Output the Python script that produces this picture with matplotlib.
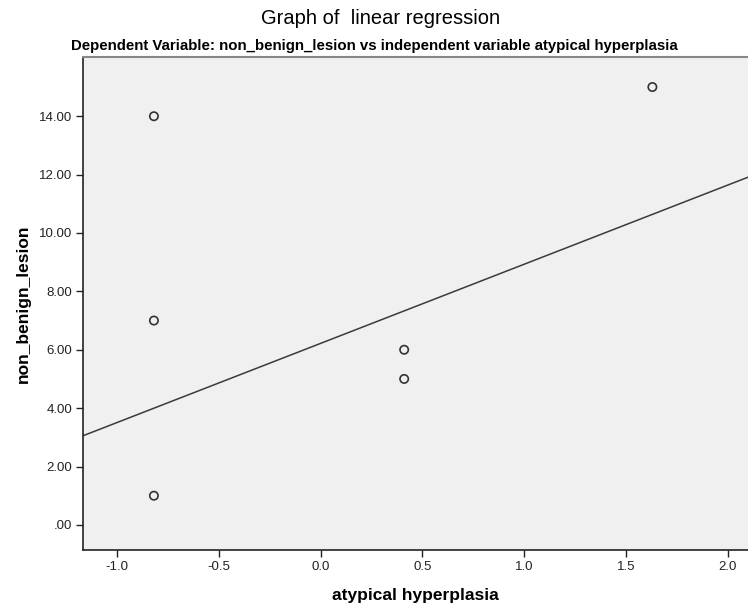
import numpy as np
import matplotlib.pyplot as plt
from matplotlib.ticker import FuncFormatter

# --- data ---
atypical_hyperplasia = [-0.82, -0.82, -0.82, 0.41, 0.41, 1.63]
non_benign_lesion = [14, 7, 1, 6, 5, 15]
fit_intercept = 6.22
fit_slope = 2.71

x_ticks = [-1.0, -0.5, 0.0, 0.5, 1.0, 1.5, 2.0]
y_ticks = [0, 2, 4, 6, 8, 10, 12, 14]

plt.rcParams['font.family'] = ['Liberation Sans', 'DejaVu Sans']

fig = plt.figure(figsize=(7.48, 6.08), dpi=100)
ax = fig.add_axes([0.1114, 0.0954, 0.8886, 0.8109])
ax.set_facecolor('#f0f0f0')

xlim = (-1.167, 2.10)
ax.set_xlim(*xlim)
ax.set_ylim(-0.86, 16.03)

# fit line across the whole axis
xs = np.array(xlim)
ax.plot(xs, fit_intercept + fit_slope * xs, color='#3a3a3a', lw=1.1, zorder=2)

ax.scatter(atypical_hyperplasia, non_benign_lesion, s=36, facecolors='none',
           edgecolors='#333333', linewidths=1.2, zorder=3)

ax.set_xticks(x_ticks)
ax.set_yticks(y_ticks)
ax.xaxis.set_major_formatter(FuncFormatter(lambda v, p: f"{v:.1f}"))
ax.yaxis.set_major_formatter(FuncFormatter(lambda v, p: f"{v:.2f}".lstrip('0') if v < 1 else f"{v:.2f}"))
ax.tick_params(axis='both', direction='out', length=5, width=1, color='#222222',
               labelsize=9.5, labelcolor='#222222', pad=3)

for side in ['left', 'bottom']:
    ax.spines[side].set_color('#222222')
    ax.spines[side].set_linewidth(1.2)
ax.spines['top'].set_color('#888888')
ax.spines['top'].set_linewidth(1.5)
ax.spines['right'].set_visible(False)

ax.set_xlabel('atypical hyperplasia', fontsize=12.5, fontweight='bold', labelpad=11)
ax.set_ylabel('non_benign_lesion', fontsize=12.5, fontweight='bold', labelpad=6)

fig.text(0.509, 0.970, 'Graph of  linear regression', ha='center', va='center', fontsize=14.5)
fig.text(0.501, 0.925, 'Dependent Variable: non_benign_lesion vs independent variable atypical hyperplasia',
         ha='center', va='center', fontsize=10.8, fontweight='bold')

fig.savefig('out.png', dpi=100)
